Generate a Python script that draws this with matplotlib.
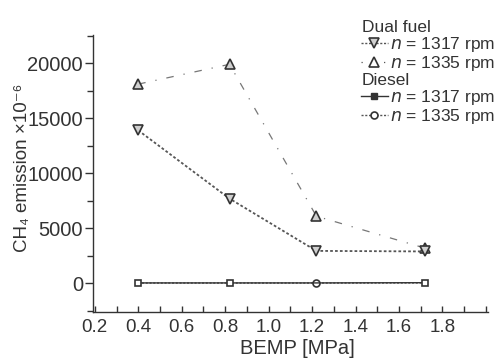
import matplotlib
matplotlib.use("Agg")
import matplotlib.pyplot as plt
from matplotlib.lines import Line2D
from matplotlib.ticker import MultipleLocator

plt.rcParams['font.family'] = ['Liberation Sans', 'DejaVu Sans']

# Dữ liệu
bemp = [0.4, 0.82, 1.22, 1.72]
dual_1317 = [13900, 7700, 2950, 2900]
dual_1335 = [18100, 19900, 6100, 3200]
diesel_1317 = [40, 40, 40, 60]
diesel_1335 = [30, 30, 30, 40]

fig = plt.figure(figsize=(4.98, 3.6), dpi=100)
ax = fig.add_axes([0.186, 0.134, 0.794, 0.769])

grey = '#555555'
dark = '#333333'

ax.plot(bemp, dual_1335, color='#777777', lw=0.9, ls=(0, (6, 8, 1, 8)),
        marker='^', ms=7.5, mfc='#d0d0d0', mec=dark, mew=1.2, zorder=3)
ax.plot(bemp, dual_1317, color=grey, lw=1.3, ls=(0, (1.5, 1.2)),
        marker='v', ms=7.5, mfc='#d0d0d0', mec=dark, mew=1.2, zorder=3)
ax.plot(bemp, diesel_1335, color=grey, lw=1.0, ls=(0, (1.5, 1.2)),
        marker='o', ms=5, mfc='white', mec=dark, mew=1.2, markevery=[2], zorder=2)
ax.plot(bemp, diesel_1317, color=dark, lw=1.0, ls='-',
        marker='s', ms=5, mfc='white', mec=dark, mew=1.2, markevery=[0, 1, 3], zorder=2)

ax.set_xlim(0.19, 2.01)
ax.set_ylim(-2580, 22570)
ax.xaxis.set_minor_locator(MultipleLocator(0.1))
ax.yaxis.set_major_locator(MultipleLocator(5000))
ax.yaxis.set_minor_locator(MultipleLocator(2500))
ax.set_xticks([0.2, 0.4, 0.6, 0.8, 1.0, 1.2, 1.4, 1.6, 1.8])
ax.set_xticklabels(['0.2', '0.4', '0.6', '0.8', '1.0', '1.2', '1.4', '1.6', '1.8'])

for s in ['top', 'right']:
    ax.spines[s].set_visible(False)
for s in ['left', 'bottom']:
    ax.spines[s].set_color(dark)
    ax.spines[s].set_linewidth(1.0)

ax.tick_params(axis='x', which='both', direction='in', length=4, width=1.0,
               colors=dark, labelsize=13.5, pad=5)
ax.tick_params(axis='y', which='major', direction='out', length=6, width=1.0,
               colors=dark, labelsize=14.5, pad=1)
ax.tick_params(axis='y', which='minor', direction='out', length=4, width=1.0, colors=dark)

ax.set_xlabel('BEMP [MPa]', fontsize=14.5, color=dark)
ax.xaxis.set_label_coords(0.517, -0.1)
ax.set_ylabel('CH₄ emission ×10⁻⁶', fontsize=13.5, color=dark)
ax.yaxis.set_label_coords(-0.156, 0.52)

# Chú thích
blank = Line2D([], [], ls='none', marker='none')
handles = [
    blank,
    Line2D([], [], color=grey, lw=1.0, ls=(0, (1.5, 1.2)), marker='v', ms=7,
           mfc='#d0d0d0', mec=dark, mew=1.2),
    Line2D([], [], color=grey, lw=0.9, ls=(0, (1, 8)), marker='^', ms=7,
           mfc='white', mec=dark, mew=1.2),
    blank,
    Line2D([], [], color=dark, lw=1.0, ls='-', marker='s', ms=5,
           mfc=dark, mec=dark),
    Line2D([], [], color=grey, lw=1.0, ls=(0, (1.5, 1.2)), marker='o', ms=5,
           mfc='white', mec=dark, mew=1.2),
]
labels = ['Dual fuel', r'$n$ = 1317 rpm', r'$n$ = 1335 rpm',
          'Diesel', r'$n$ = 1317 rpm', r'$n$ = 1335 rpm']
leg = ax.legend(handles, labels, loc='upper right', bbox_to_anchor=(1.04, 1.087),
                frameon=False, fontsize=12.5, handlelength=1.6, handletextpad=0.1,
                labelspacing=0.0, borderpad=0)
texts = leg.get_texts()
for i in (0, 3):
    texts[i].set_position((-28, 0))
for t in texts:
    t.set_color(dark)

fig.savefig('out.png', dpi=100)
